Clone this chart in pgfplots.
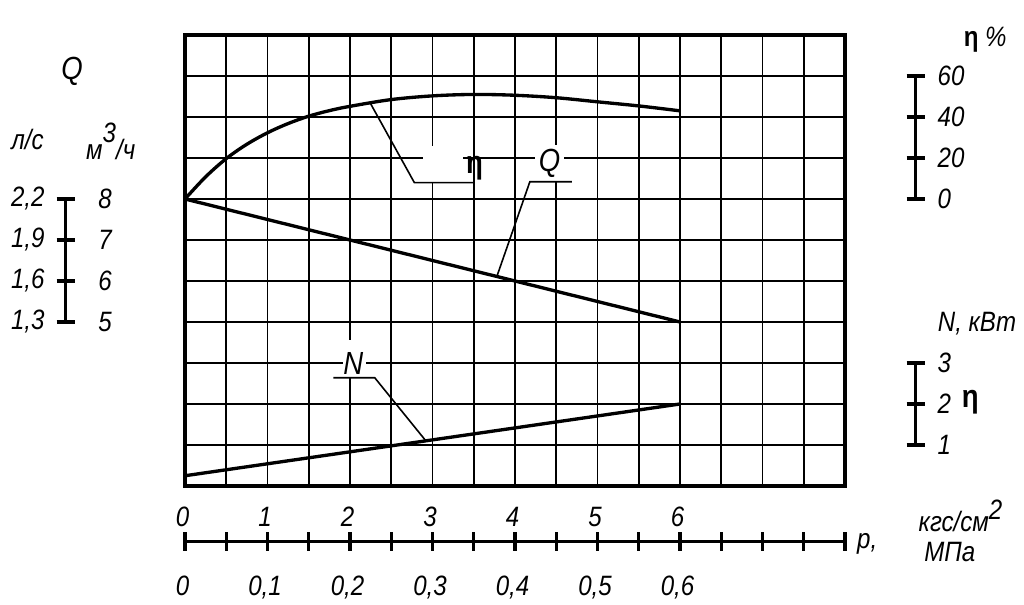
\documentclass[border=0pt]{standalone}
\usepackage{fontspec}
\setmainfont{Liberation Sans}[FakeStretch=0.86]
\usepackage{pgfplots}
\pgfplotsset{compat=1.18}
\tikzset{lbl/.style={font=\fontsize{21}{25}\selectfont\itshape, inner sep=0pt},
         big/.style={font=\fontsize{24}{28}\selectfont\itshape, inner sep=0pt},
         eta/.style={font=\fontsize{24}{28}\selectfont\bfseries, inner sep=0pt}}
\begin{document}
\begin{tikzpicture}[x=0.75pt,y=0.75pt]
\path (-185,-119) rectangle (839,486);
\begin{axis}[
  x=61.875pt, y=30.75pt,
  xmin=0, xmax=8, ymin=0, ymax=11,
  xtick={0,0.5,...,8}, ytick={0,1,...,11},
  xticklabels={}, yticklabels={},
  major tick length=0pt,
  grid=major,
  major grid style={black, line width=1.25pt},
  axis line style={black, line width=2.3pt},
  clip=false,
]
% eta curve (%), plotted on grid: g = eta/20 + 7
\addplot[black, line width=2.5pt, smooth, tension=0.55] table[x=p, y expr=\thisrow{eta}/20+7] {
p eta
0 0
0.25 10.8
0.5 19.7
0.75 26.7
1 32.3
1.25 36.8
1.5 40.4
1.75 43.1
2 45.2
2.5 48.5
3 50.3
3.5 51
4 50.6
4.5 49.4
5 47.4
5.5 45.4
6 43
};
% Q (m3/h), g = Q - 1
\addplot[black, line width=2.5pt] table[x=p, y expr=\thisrow{Q}-1] {
p Q
0 8
6 5
};
% N (kW), g = N
\addplot[black, line width=2.5pt] table[x=p, y=N] {
p N
0 0.25
6 2
};
% white label areas
\fill[white] (axis cs:2.88,7.40) rectangle (axis cs:3.37,8.29);
\fill[white] (axis cs:4.24,7.43) rectangle (axis cs:4.59,8.32);
\fill[white] (axis cs:1.91,2.66) rectangle (axis cs:2.20,3.56);
% leaders
\draw[black, line width=1.2pt] (axis cs:2.24,9.36) -- (axis cs:2.78,7.40) -- (axis cs:3.50,7.40);
\draw[black, line width=1.2pt] (axis cs:3.78,5.11) -- (axis cs:4.18,7.42) -- (axis cs:4.69,7.42);
\draw[black, line width=1.2pt] (axis cs:1.80,2.64) -- (axis cs:2.30,2.64) -- (axis cs:2.92,1.10);
\node[eta] at (axis cs:3.51,7.74) {η};
\node[big] at (axis cs:4.42,7.87) {Q};
\node[big] at (axis cs:2.04,3.0) {N};
% Q scale (left)
\draw[black, line width=2.3pt] (axis cs:-1.446,7) -- (axis cs:-1.446,4);
\pgfplotsinvokeforeach{4,5,6,7}{
  \draw[black, line width=2.3pt] (axis cs:-1.556,#1) -- (axis cs:-1.336,#1);
}
\node[lbl, anchor=east] at (axis cs:-1.70,7) {2,2};
\node[lbl, anchor=east] at (axis cs:-1.70,6) {1,9};
\node[lbl, anchor=east] at (axis cs:-1.70,5) {1,6};
\node[lbl, anchor=east] at (axis cs:-1.70,4) {1,3};
\node[lbl] at (axis cs:-0.97,7) {8};
\node[lbl] at (axis cs:-0.97,6) {7};
\node[lbl] at (axis cs:-0.97,5) {6};
\node[lbl] at (axis cs:-0.97,4) {5};
\node[big] at (axis cs:-1.37,10.11) {Q};
\node[lbl] at (axis cs:-1.91,8.44) {л/с};
\node[lbl] at (axis cs:-0.90,8.40) {м\raisebox{0.6em}{3}/ч};
% eta scale (right)
\draw[black, line width=2.3pt] (axis cs:8.857,7) -- (axis cs:8.857,10);
\pgfplotsinvokeforeach{7,8,9,10}{
  \draw[black, line width=2.3pt] (axis cs:8.747,#1) -- (axis cs:8.967,#1);
}
\node[lbl, anchor=west] at (axis cs:9.12,10) {60};
\node[lbl, anchor=west] at (axis cs:9.12,9) {40};
\node[lbl, anchor=west] at (axis cs:9.12,8) {20};
\node[lbl, anchor=west] at (axis cs:9.12,7) {0};
\node[lbl] at (axis cs:9.70,10.88) {{\upshape\bfseries η} \%};
% N scale (right)
\draw[black, line width=2.3pt] (axis cs:8.857,1) -- (axis cs:8.857,3);
\pgfplotsinvokeforeach{1,2,3}{
  \draw[black, line width=2.3pt] (axis cs:8.747,#1) -- (axis cs:8.967,#1);
}
\node[lbl, anchor=west] at (axis cs:9.12,3) {3};
\node[lbl, anchor=west] at (axis cs:9.12,2) {2};
\node[lbl, anchor=west] at (axis cs:9.12,1) {1};
\node[eta] at (axis cs:9.52,2.05) {η};
\node[lbl] at (axis cs:9.60,3.96) {N, кВт};
% pressure ruler (bottom)
\draw[black, line width=2.3pt] (axis cs:0,-1.36) -- (axis cs:8,-1.36);
\pgfplotsinvokeforeach{0,0.5,...,8}{
  \draw[black, line width=2.3pt] (axis cs:#1,-1.13) -- (axis cs:#1,-1.59);
}
\pgfplotsinvokeforeach{0,1,2,3,4,5,6}{
  \node[lbl] at (axis cs:#1-0.03,-0.75) {#1};
}
\node[lbl, anchor=base] at (axis cs:-0.03,-2.68) {0};
\node[lbl, anchor=base] at (axis cs:0.97,-2.68) {0,1};
\node[lbl, anchor=base] at (axis cs:1.97,-2.68) {0,2};
\node[lbl, anchor=base] at (axis cs:2.97,-2.68) {0,3};
\node[lbl, anchor=base] at (axis cs:3.97,-2.68) {0,4};
\node[lbl, anchor=base] at (axis cs:4.97,-2.68) {0,5};
\node[lbl, anchor=base] at (axis cs:5.97,-2.68) {0,6};
\node[lbl] at (axis cs:8.27,-1.41) {р,};
\node[lbl] at (axis cs:9.40,-0.73) {кгс/см\raisebox{0.45em}{2}};
\node[lbl] at (axis cs:9.27,-1.61) {МПа};
\end{axis}
\end{tikzpicture}
\end{document}
